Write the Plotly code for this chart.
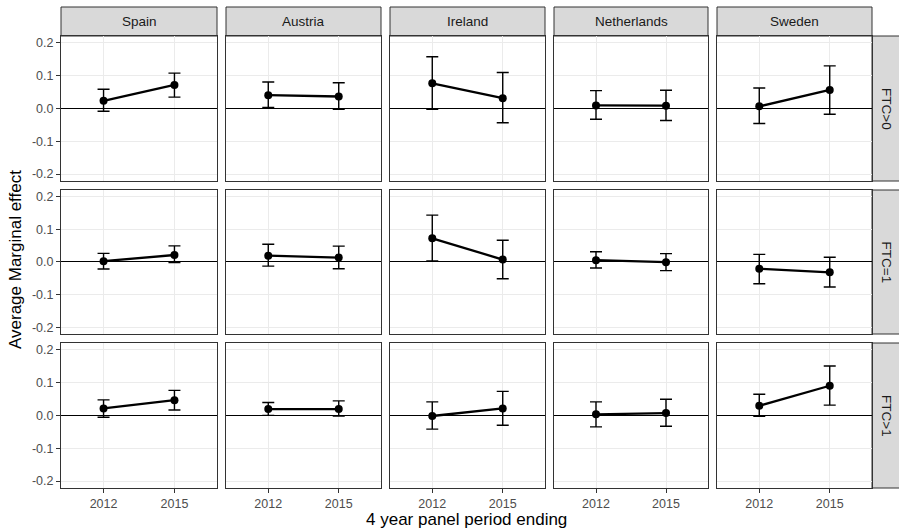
import plotly.graph_objects as go

countries = ["Spain", "Austria", "Ireland", "Netherlands", "Sweden"]
facet_rows = ["FTC>0", "FTC=1", "FTC>1"]
years = ["2012", "2015"]

# estimates / lower / upper per country: [2012, 2015]
est_gt0 = [[0.023, 0.071], [0.040, 0.036], [0.076, 0.031], [0.009, 0.008], [0.006, 0.056]]
lo_gt0 = [[-0.009, 0.034], [0.003, -0.003], [-0.003, -0.044], [-0.033, -0.037], [-0.046, -0.018]]
hi_gt0 = [[0.058, 0.107], [0.080, 0.078], [0.157, 0.109], [0.054, 0.055], [0.062, 0.129]]

est_eq1 = [[0.002, 0.021], [0.019, 0.013], [0.072, 0.007], [0.005, -0.001], [-0.021, -0.032]]
lo_eq1 = [[-0.022, -0.002], [-0.013, -0.021], [0.003, -0.052], [-0.019, -0.027], [-0.067, -0.077]]
hi_eq1 = [[0.026, 0.049], [0.054, 0.048], [0.143, 0.066], [0.031, 0.025], [0.023, 0.014]]

est_gt1 = [[0.021, 0.046], [0.019, 0.019], [-0.002, 0.021], [0.003, 0.007], [0.029, 0.090]]
lo_gt1 = [[-0.006, 0.016], [0.000, -0.002], [-0.042, -0.030], [-0.035, -0.033], [-0.003, 0.031]]
hi_gt1 = [[0.047, 0.076], [0.039, 0.044], [0.041, 0.073], [0.041, 0.049], [0.064, 0.150]]

y_ticks = [-0.2, -0.1, 0.0, 0.1, 0.2]
y_ticklabels = ["-0.2", "-0.1", "0.0", "0.1", "0.2"]

series = [(est_gt0, lo_gt0, hi_gt0), (est_eq1, lo_eq1, hi_eq1), (est_gt1, lo_gt1, hi_gt1)]

W, H = 899, 530
col_x = [(61, 217), (226, 381), (390, 545), (554, 708), (717, 872)]
row_y = [(36, 181), (190, 334), (343, 488)]
strip_top = 7
strip_right = (872, 899)

FONT = "Liberation Sans, Arial, sans-serif"
TICK_SIZE = 12.5
STRIP_SIZE = 13.5
TITLE_SIZE = 17

fig = go.Figure()
layout = {}
shapes = []
annotations = []

for r in range(3):
    est, lo, hi = series[r]
    for c in range(5):
        k = r * 5 + c + 1
        xa = "x" if k == 1 else f"x{k}"
        ya = "y" if k == 1 else f"y{k}"
        e = est[c]
        fig.add_trace(go.Scatter(
            x=years, y=e, xaxis=xa, yaxis=ya, mode="lines+markers",
            line=dict(color="black", width=2.3),
            marker=dict(color="black", size=8),
            error_y=dict(type="data", symmetric=False,
                         array=[hi[c][i] - e[i] for i in range(2)],
                         arrayminus=[e[i] - lo[c][i] for i in range(2)],
                         color="black", thickness=1.4, width=6),
            showlegend=False, hoverinfo="skip"))
        x0, x1 = col_x[c]
        y0, y1 = row_y[r]
        xkey = "xaxis" if k == 1 else f"xaxis{k}"
        ykey = "yaxis" if k == 1 else f"yaxis{k}"
        layout[xkey] = dict(
            domain=[x0 / W, x1 / W], anchor=ya, type="category",
            categoryorder="array", categoryarray=years, range=[-0.6, 1.6],
            showgrid=True, gridcolor="#ebebeb", gridwidth=1,
            showline=True, mirror=True, linecolor="#333333", linewidth=1,
            ticks="outside" if r == 2 else "", ticklen=3.5, tickcolor="#333333",
            showticklabels=(r == 2), tickfont=dict(family=FONT, size=TICK_SIZE, color="#4d4d4d"),
            zeroline=False, fixedrange=True)
        layout[ykey] = dict(
            domain=[1 - y1 / H, 1 - y0 / H], anchor=xa, range=[-0.221, 0.22],
            tickvals=y_ticks, ticktext=y_ticklabels,
            showgrid=True, gridcolor="#ebebeb", gridwidth=1,
            showline=True, mirror=True, linecolor="#333333", linewidth=1,
            ticks="outside" if c == 0 else "", ticklen=4, tickcolor="#333333",
            showticklabels=(c == 0), tickfont=dict(family=FONT, size=TICK_SIZE, color="#4d4d4d"),
            zeroline=True, zerolinecolor="black", zerolinewidth=1, fixedrange=True)

# top strips
for c in range(5):
    x0, x1 = col_x[c]
    shapes.append(dict(type="rect", xref="paper", yref="paper",
                       x0=x0 / W, x1=x1 / W, y0=1 - row_y[0][0] / H, y1=1 - strip_top / H,
                       fillcolor="#d9d9d9", line=dict(color="#333333", width=1), layer="below"))
    annotations.append(dict(text=countries[c], xref="paper", yref="paper",
                            x=(x0 + x1) / 2 / W, y=1 - (strip_top + row_y[0][0]) / 2 / H,
                            showarrow=False, xanchor="center", yanchor="middle",
                            font=dict(family=FONT, size=STRIP_SIZE, color="#1a1a1a")))
# right strips
for r in range(3):
    y0, y1 = row_y[r]
    shapes.append(dict(type="rect", xref="paper", yref="paper",
                       x0=strip_right[0] / W, x1=(strip_right[1] + 2) / W,
                       y0=1 - y1 / H, y1=1 - y0 / H,
                       fillcolor="#d9d9d9", line=dict(color="#333333", width=1), layer="below"))
    annotations.append(dict(text=facet_rows[r], xref="paper", yref="paper",
                            x=886.5 / W, y=1 - (y0 + y1) / 2 / H, textangle=90,
                            showarrow=False, xanchor="center", yanchor="middle",
                            font=dict(family=FONT, size=STRIP_SIZE, color="#1a1a1a")))

annotations.append(dict(text="4 year panel period ending", xref="paper", yref="paper",
                        x=(61 + 872) / 2 / W, y=0, showarrow=False,
                        xanchor="center", yanchor="bottom", borderpad=0,
                        font=dict(family=FONT, size=TITLE_SIZE, color="black")))
annotations.append(dict(text="Average Marginal effect", xref="paper", yref="paper",
                        x=15 / W, y=1 - 260 / H, textangle=-90, showarrow=False,
                        xanchor="center", yanchor="middle",
                        font=dict(family=FONT, size=TITLE_SIZE, color="black")))

fig.update_layout(width=W, height=H, margin=dict(l=0, r=0, t=0, b=0),
                  paper_bgcolor="white", plot_bgcolor="white",
                  shapes=shapes, annotations=annotations, showlegend=False,
                  **layout)

fig.write_html("out.html")
